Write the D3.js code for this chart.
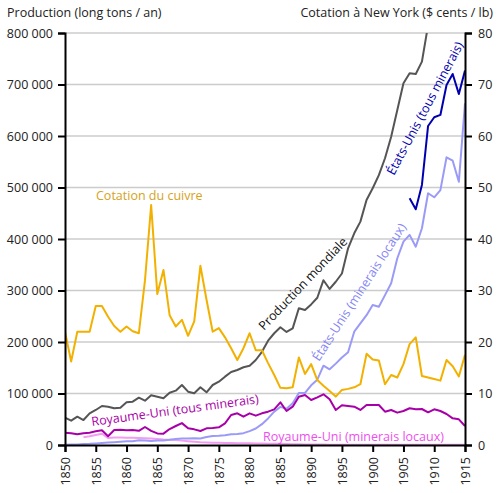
<!DOCTYPE html>
<html>
<head>
<meta charset="utf-8">
<script src="https://cdnjs.cloudflare.com/ajax/libs/d3/7.8.5/d3.min.js"></script>
<style>
  body { margin: 0; background: #fff; }
  text { font-family: "Open Sans", sans-serif; }
</style>
</head>
<body>
<svg></svg>
<script>
// data
var years = [1850, 1851, 1852, 1853, 1854, 1855, 1856, 1857, 1858, 1859,
  1860, 1861, 1862, 1863, 1864, 1865, 1866, 1867, 1868, 1869,
  1870, 1871, 1872, 1873, 1874, 1875, 1876, 1877, 1878, 1879,
  1880, 1881, 1882, 1883, 1884, 1885, 1886, 1887, 1888, 1889,
  1890, 1891, 1892, 1893, 1894, 1895, 1896, 1897, 1898, 1899,
  1900, 1901, 1902, 1903, 1904, 1905, 1906, 1907, 1908, 1909,
  1910, 1911, 1912, 1913, 1914, 1915]

// cotation du cuivre ($ cents / lb)
var price = [22, 16.2, 22, 22, 22, 27, 27, 24.9, 23.1, 22,
  23, 22.1, 21.7, 32, 46.6, 29.3, 34, 25.2, 23, 24.3,
  21.2, 24, 34.8, 28.2, 22, 22.7, 20.9, 18.8, 16.5, 18.8,
  21.7, 18.4, 18.4, 15.9, 13.6, 11.1, 11, 11.2, 17, 13.8,
  15.7, 12.6, 11.5, 10.5, 9.4, 10.7, 10.9, 11.2, 11.8, 17.7,
  16.6, 16.4, 11.8, 13.6, 13.1, 15.7, 19.6, 20.9, 13.4, 13.1,
  12.8, 12.5, 16.5, 15.3, 13.3, 17.5]

// production mondiale (long tons / an)
var world = [53000, 47200, 55000, 48500, 61500, 68000, 75700, 74400, 71300, 72400,
  82900, 84100, 91900, 86000, 96500, 93800, 90700, 101600, 105500, 116500,
  103500, 100400, 112000, 102300, 116500, 123000, 132700, 141800, 145700, 150900,
  154000, 165000, 181000, 202500, 217000, 228500, 219500, 226500, 265500, 262000,
  273000, 286000, 320000, 303000, 317000, 333000, 382000, 411000, 433700, 475800,
  498500, 524000, 556800, 598700, 650600, 702500, 721800, 720500, 744400, 815000,
  860000, 875000, 1010000, 1000000, 925000, 1075000]

// etats-unis, minerais locaux
var usLocal = [650, 900, 1100, 2000, 2250, 3000, 4000, 4800, 5500, 6300,
  7200, 7500, 9000, 8500, 8000, 8500, 8900, 10000, 11600, 12500,
  12600, 13000, 12500, 15500, 17500, 18000, 19000, 21000, 21500, 23000,
  27000, 32000, 40500, 51600, 64700, 74000, 70400, 81000, 101000, 101200,
  116000, 126800, 154000, 147000, 158000, 170000, 180000, 220000, 236000, 252000,
  272000, 268600, 291000, 314000, 362600, 395000, 408000, 385000, 420800, 488800,
  481000, 495000, 558700, 552000, 511000, 663500]

// etats-unis, tous minerais (from 1906)
var usAllYears = [1906, 1907, 1908, 1909, 1910, 1911, 1912, 1913, 1914, 1915]
var usAll = [479000, 457700, 505000, 619500, 636400, 640900, 699000, 720500, 681600, 727000]

// royaume-uni, tous minerais
var ukAll = [23900, 22700, 20700, 22700, 23900, 26600, 28500, 17000, 29000, 29500,
  28500, 29000, 27500, 35000, 27500, 22500, 22000, 31000, 36900, 42500,
  32500, 30400, 27200, 32300, 33000, 34300, 42100, 58300, 61500, 55000,
  61500, 57000, 61500, 64700, 69300, 82900, 66000, 74400, 93800, 97100,
  87400, 92600, 98400, 88700, 68000, 77100, 75700, 74400, 68000, 77700,
  77700, 77700, 64700, 68000, 62800, 66000, 71300, 69300, 69900, 63500,
  69300, 66000, 60200, 51800, 49900, 36900]

// royaume-uni, minerais locaux (from 1853)
var ukLocalYears = [1853, 1854, 1855, 1856, 1857, 1858, 1859,
  1860, 1861, 1862, 1863, 1864, 1865, 1866, 1867, 1868, 1869,
  1870, 1871, 1872, 1873, 1874, 1875, 1876, 1877, 1878, 1879,
  1880, 1881, 1882, 1883, 1884, 1885, 1886, 1887, 1888, 1889,
  1890, 1891, 1892, 1893, 1894, 1895, 1896, 1897, 1898, 1899,
  1900, 1901, 1902, 1903, 1904, 1905, 1906, 1907, 1908, 1909,
  1910, 1911, 1912, 1913, 1914, 1915]
var ukLocal = [15000, 17000, 19500, 22000, 13500, 14500, 14500,
  14000, 14000, 13500, 13000, 12500, 11500, 10500, 10000, 9500, 8500,
  7500, 6500, 5500, 5000, 4500, 4200, 4000, 3800, 3600, 3400,
  3300, 3000, 2800, 2600, 2400, 2200, 1800, 1500, 1300, 1100,
  1000, 900, 800, 700, 700, 700, 650, 600, 600, 600,
  550, 550, 550, 500, 500, 500, 500, 450, 450, 450,
  400, 400, 400, 400, 350, 350]

var leftTicks = [0, 100000, 200000, 300000, 400000, 500000, 600000, 700000, 800000]
var rightTicks = [0, 10, 20, 30, 40, 50, 60, 70, 80]
var yearTicks = [1850, 1855, 1860, 1865, 1870, 1875, 1880, 1885, 1890, 1895, 1900, 1905, 1910, 1915]

var svgWidth = 500, svgHeight = 493
var plotLeft = 65, plotRight = 465, plotTop = 33, plotBottom = 445

var svg = d3.select('svg')
    .attr('width', svgWidth)
    .attr('height', svgHeight)

// scales
var x = d3.scaleLinear().domain([1850, 1915]).range([plotLeft, plotRight])
var yL = d3.scaleLinear().domain([0, 800000]).range([plotBottom, plotTop])
var yR = d3.scaleLinear().domain([0, 80]).range([plotBottom, plotTop])

var fmt = d3.formatLocale({ decimal: ',', thousands: ' ', grouping: [3], currency: ['', ''] }).format(',')

svg.append('clipPath').attr('id', 'plot')
  .append('rect')
    .attr('x', plotLeft).attr('y', plotTop)
    .attr('width', plotRight - plotLeft).attr('height', plotBottom - plotTop)

// grid
svg.append('g').selectAll('line')
    .data(leftTicks.slice(1))
    .enter()
    .append('line')
    .attr('x1', plotLeft).attr('x2', plotRight)
    .attr('y1', function(d) { return yL(d) })
    .attr('y2', function(d) { return yL(d) })
    .style('stroke', '#cccccc')
    .style('stroke-width', 1.5)

// lines
function drawLine(xs, vals, yScale, color) {
  var pts = xs.map(function(yr, i) { return [yr, vals[i]] })
  var line = d3.line()
      .x(function(d) { return x(d[0]) })
      .y(function(d) { return yScale(d[1]) })
  svg.append('path')
      .datum(pts)
      .attr('d', line)
      .attr('clip-path', 'url(#plot)')
      .style('fill', 'none')
      .style('stroke', color)
      .style('stroke-width', 2)
      .style('stroke-linejoin', 'round')
}

drawLine(ukLocalYears, ukLocal, yL, '#f29cf2')
drawLine(years, usLocal, yL, '#9b9bf7')
drawLine(years, ukAll, yL, '#a800a8')
drawLine(years, world, yL, '#555555')
drawLine(usAllYears, usAll, yL, '#0000b0')
drawLine(years, price, yR, '#f2b100')

// axes
var axL = svg.append('g')
    .attr('transform', 'translate(' + plotLeft + ',0)')
    .call(d3.axisLeft(yL).tickValues(leftTicks).tickFormat(fmt).tickSize(7).tickPadding(5))
var axR = svg.append('g')
    .attr('transform', 'translate(' + plotRight + ',0)')
    .call(d3.axisRight(yR).tickValues(rightTicks).tickSize(7).tickPadding(6))
var axB = svg.append('g')
    .attr('transform', 'translate(0,' + plotBottom + ')')
    .call(d3.axisBottom(x).tickValues(yearTicks).tickFormat(d3.format('d')).tickSize(7))

axB.selectAll('text')
    .attr('transform', 'rotate(-90)')
    .attr('x', -12)
    .attr('y', 0)
    .attr('dy', '0.35em')
    .style('text-anchor', 'end')

svg.selectAll('.domain').style('stroke', '#000').style('stroke-width', 2)
svg.selectAll('.tick line').style('stroke', '#000').style('stroke-width', 2)
svg.selectAll('.tick text')
    .style('font-family', '"Open Sans", sans-serif')
    .style('font-size', '12.5px')
    .style('fill', '#222')

// titles
svg.append('text').text('Production (long tons / an)')
    .attr('x', 7).attr('y', 17)
    .style('font-size', '12.5px').style('fill', '#222')
svg.append('text').text('Cotation à New York ($ cents / lb)')
    .attr('x', 493).attr('y', 17)
    .style('text-anchor', 'end')
    .style('font-size', '12.5px').style('fill', '#222')

// series labels
var labels = [
  { t: 'Cotation du cuivre', x: 96, y: 200, r: 0, c: '#d6a21c' },
  { t: 'Production mondiale', x: 264, y: 331, r: -46.5, c: '#111111' },
  { t: 'États-Unis (minerais locaux)', x: 319, y: 362, r: -57, c: '#8585f5' },
  { t: 'États-Unis (tous minerais)', x: 394, y: 176, r: -62, c: '#0000b0' },
  { t: 'Royaume-Uni (tous minerais)', x: 92, y: 426, r: -7.8, c: '#a800a8' },
  { t: 'Royaume-Uni (minerais locaux)', x: 263, y: 441, r: 0, c: '#ee4fee' }
]
svg.append('g').selectAll('text')
    .data(labels)
    .enter()
    .append('text')
    .text(function(d) { return d.t })
    .attr('transform', function(d) { return 'translate(' + d.x + ',' + d.y + ') rotate(' + d.r + ')' })
    .style('font-size', '12.5px')
    .style('fill', function(d) { return d.c })
</script>
</body>
</html>
